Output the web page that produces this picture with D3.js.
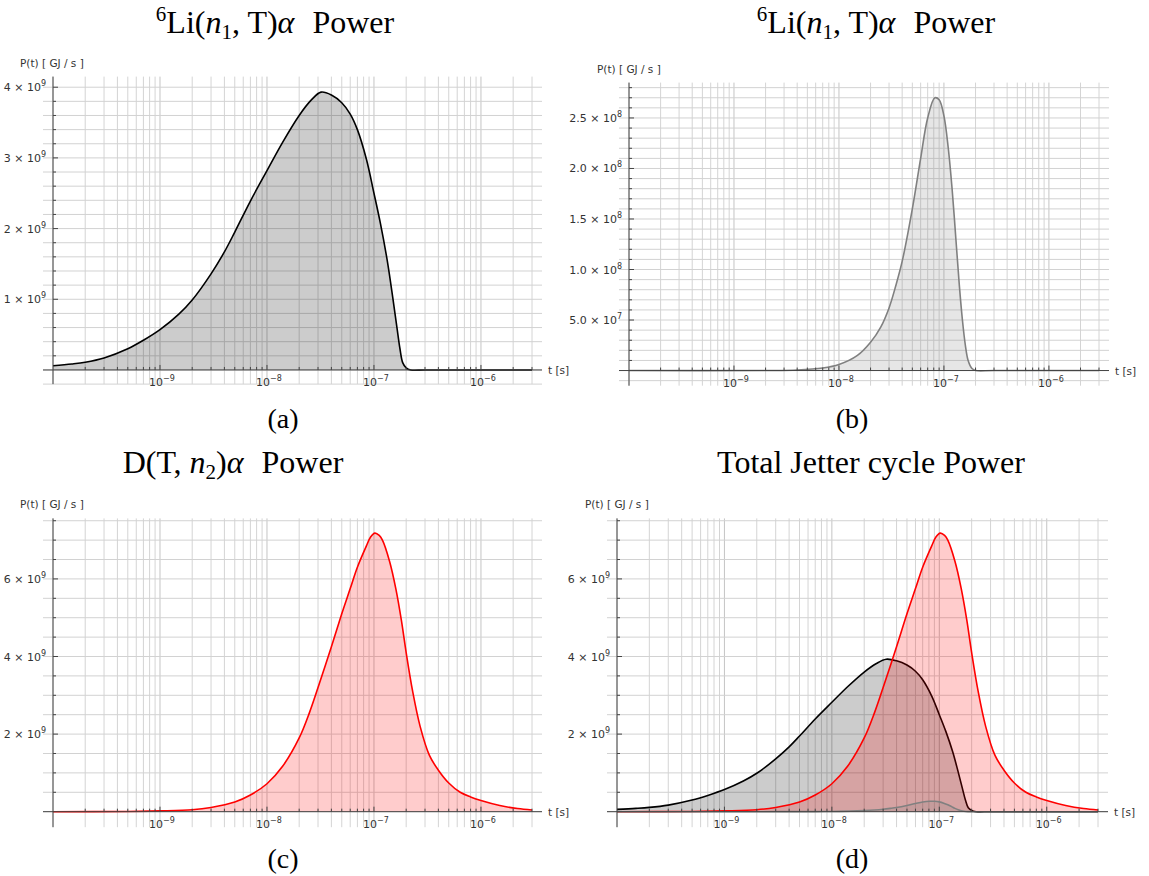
<!DOCTYPE html>
<html>
<head>
<meta charset="utf-8">
<script src="https://d3js.org/d3.v7.min.js"></script>
<style>
body{margin:0;background:#fff}
.ticklab{font-family:"DejaVu Sans";font-size:11px;fill:#333}
.axlab{font-family:"DejaVu Sans";font-size:10.5px;fill:#333}
.title{font-family:"Liberation Serif";font-size:32px;fill:#000}
.caption{font-family:"Liberation Serif";font-size:28px;fill:#000}
</style>
</head>
<body>
<div id="chart"></div>
<script>
// t in seconds, P in GJ/s
var li6Time  = [1e-10, 1.5e-10, 2e-10, 3e-10, 5e-10, 7e-10, 1e-9, 1.5e-9, 2e-9, 3e-9, 4e-9, 5e-9, 7e-9, 1e-8, 1.4e-8, 2e-8, 2.6e-8, 3.2e-8, 4e-8, 5e-8, 6e-8, 7e-8, 8.5e-8, 1e-7, 1.15e-7, 1.33e-7, 1.5e-7, 1.64e-7, 1.75e-7, 1.86e-7, 2e-7, 2.2e-7, 3e-7, 1e-6, 3e-6];
var li6Power = [0.06e9, 0.085e9, 0.11e9, 0.17e9, 0.30e9, 0.42e9, 0.57e9, 0.79e9, 0.99e9, 1.36e9, 1.67e9, 1.95e9, 2.39e9, 2.82e9, 3.22e9, 3.60e9, 3.82e9, 3.93e9, 3.89e9, 3.78e9, 3.62e9, 3.40e9, 2.98e9, 2.50e9, 2.07e9, 1.55e9, 1.02e9, 0.6e9, 0.3e9, 0.1e9, 0.03e9, 0, 0, 0, 0];

var li6bTime  = [1e-10, 2e-9, 4e-9, 7e-9, 1e-8, 1.5e-8, 2e-8, 2.5e-8, 3e-8, 3.5e-8, 4e-8, 5e-8, 6e-8, 7e-8, 8.2e-8, 9e-8, 1e-7, 1.1e-7, 1.2e-7, 1.3e-7, 1.4e-7, 1.5e-7, 1.6e-7, 1.7e-7, 1.85e-7, 2e-7, 3e-7, 3e-6];
var li6bPower = [0, 0, 0.005e8, 0.025e8, 0.06e8, 0.15e8, 0.28e8, 0.43e8, 0.62e8, 0.85e8, 1.08e8, 1.6e8, 2.1e8, 2.5e8, 2.7e8, 2.68e8, 2.52e8, 2.2e8, 1.78e8, 1.3e8, 0.85e8, 0.5e8, 0.25e8, 0.1e8, 0.02e8, 0, 0, 0];

var dtTime  = [1e-10, 5e-10, 1e-9, 2e-9, 3e-9, 5e-9, 7e-9, 1e-8, 1.4e-8, 2e-8, 2.5e-8, 3e-8, 4e-8, 5e-8, 6e-8, 7e-8, 8.5e-8, 9.3e-8, 1.02e-7, 1.12e-7, 1.2e-7, 1.4e-7, 1.6e-7, 1.8e-7, 2e-7, 2.3e-7, 2.7e-7, 3.3e-7, 4e-7, 5e-7, 6.4e-7, 8e-7, 1e-6, 1.5e-6, 2.2e-6, 3e-6];
var dtPower = [0, 0.005e9, 0.02e9, 0.05e9, 0.11e9, 0.25e9, 0.43e9, 0.72e9, 1.17e9, 1.9e9, 2.56e9, 3.2e9, 4.25e9, 5.1e9, 5.75e9, 6.3e9, 6.85e9, 7.08e9, 7.18e9, 7.12e9, 7.0e9, 6.45e9, 5.75e9, 4.95e9, 4.1e9, 3.1e9, 2.2e9, 1.45e9, 1.07e9, 0.74e9, 0.5e9, 0.38e9, 0.29e9, 0.16e9, 0.08e9, 0.045e9];

var tDomain = [1e-10, 3e-6];
var xMajor = [1e-9, 1e-8, 1e-7, 1e-6];
var xMajorExp = ["−9", "−8", "−7", "−6"];

var yTicksA = [1e9, 2e9, 3e9, 4e9];
var yLabelsA = ["1 × 10", "2 × 10", "3 × 10", "4 × 10"];
var yExpA = ["9", "9", "9", "9"];

var yTicksB = [0.5e8, 1.0e8, 1.5e8, 2.0e8, 2.5e8];
var yLabelsB = ["5.0 × 10", "1.0 × 10", "1.5 × 10", "2.0 × 10", "2.5 × 10"];
var yExpB = ["7", "8", "8", "8", "8"];

var yTicksC = [2e9, 4e9, 6e9];
var yLabelsC = ["2 × 10", "4 × 10", "6 × 10"];
var yExpC = ["9", "9", "9"];

var li6Series  = {t: li6Time,  p: li6Power,  color: "#000000"};
var li6bSeries = {t: li6bTime, p: li6bPower, color: "#808080"};
var dtSeries   = {t: dtTime,   p: dtPower,   color: "#ff0000"};

var svg = d3.select("#chart").append("svg")
  .attr("width", 1149)
  .attr("height", 876);

function drawPanel(cfg){
  var g = svg.append("g");
  var x = d3.scaleLog().domain(tDomain).range([cfg.left, cfg.right]);
  var y = d3.scaleLinear().domain(cfg.pDomain).range([cfg.bottom, cfg.top]);
  var pad = 10;

  // grid
  var vt = x.ticks();
  g.selectAll(".vgrid").data(vt).enter().append("line")
    .attr("x1", function(d){return x(d);}).attr("x2", function(d){return x(d);})
    .attr("y1", cfg.top).attr("y2", cfg.bottom)
    .attr("stroke", function(d){ return xMajor.indexOf(d) >= 0 ? "#c4c4c4" : "#d4d4d4"; })
    .attr("stroke-width", 1);

  var i0 = Math.ceil(cfg.pDomain[0] / cfg.minor - 1e-6), i1 = Math.floor(cfg.pDomain[1] / cfg.minor + 1e-6);
  var ht = d3.range(i0, i1 + 1).map(function(i){ return i * cfg.minor; });
  g.selectAll(".hgrid").data(ht).enter().append("line")
    .attr("x1", cfg.left - pad).attr("x2", cfg.right + pad)
    .attr("y1", function(d){return y(d);}).attr("y2", function(d){return y(d);})
    .attr("stroke", "#d2d2d2")
    .attr("stroke-width", 1);

  // curves
  cfg.series.forEach(function(s){
    var pts = s.t.map(function(t, i){ return [t, s.p[i]]; });
    var area = d3.area().curve(d3.curveCatmullRom.alpha(0.5))
      .x(function(d){return x(d[0]);}).y0(y(0)).y1(function(d){return y(d[1]);});
    var line = d3.line().curve(d3.curveCatmullRom.alpha(0.5))
      .x(function(d){return x(d[0]);}).y(function(d){return y(d[1]);});
    g.append("path").datum(pts).attr("d", area)
      .attr("fill", s.color).attr("fill-opacity", 0.2).attr("stroke", "none");
    g.append("path").datum(pts).attr("d", line)
      .attr("fill", "none").attr("stroke", s.color).attr("stroke-width", 1.6);
  });

  // axes
  var y0 = y(0);
  g.append("line").attr("x1", cfg.left - pad).attr("x2", cfg.right + pad)
    .attr("y1", y0).attr("y2", y0).attr("stroke", "#444").attr("stroke-width", 1);
  g.append("line").attr("x1", cfg.left).attr("x2", cfg.left)
    .attr("y1", cfg.top).attr("y2", cfg.bottom).attr("stroke", "#444").attr("stroke-width", 1);

  g.selectAll(".xtick").data(vt.filter(function(d){return d > tDomain[0] * 1.01;})).enter().append("line")
    .attr("x1", function(d){return x(d);}).attr("x2", function(d){return x(d);})
    .attr("y1", y0).attr("y2", function(d){ return y0 - (xMajor.indexOf(d) >= 0 ? 5 : 3); })
    .attr("stroke", "#444");

  g.selectAll(".ytick").data(ht.filter(function(d){return d > 0;})).enter().append("line")
    .attr("x1", cfg.left).attr("x2", function(d){
      var isMajor = cfg.yTicks.some(function(v){ return Math.abs(v - d) < cfg.minor * 0.01; });
      return cfg.left + (isMajor ? 5 : 3);
    })
    .attr("y1", function(d){return y(d);}).attr("y2", function(d){return y(d);})
    .attr("stroke", "#444");

  // tick labels
  var xl = g.selectAll(".xlab").data(xMajor).enter().append("text")
    .attr("class", "ticklab")
    .attr("x", function(d){return x(d) + 2;})
    .attr("y", y0 + 16)
    .attr("text-anchor", "middle");
  xl.append("tspan").text("10");
  xl.append("tspan").attr("dy", -5).style("font-size", "8px").text(function(d, i){ return xMajorExp[i]; });

  var yl = g.selectAll(".ylab").data(cfg.yTicks).enter().append("text")
    .attr("class", "ticklab")
    .attr("x", cfg.left - 7)
    .attr("y", function(d){ return y(d) + 4; })
    .attr("text-anchor", "end");
  yl.append("tspan").text(function(d, i){ return cfg.yLabels[i]; });
  yl.append("tspan").attr("dy", -5).style("font-size", "8px").text(function(d, i){ return cfg.yExp[i]; });

  g.append("text").attr("class", "axlab")
    .attr("x", cfg.right + pad + 6).attr("y", y0 + 4).text("t [s]");
  g.append("text").attr("class", "axlab")
    .attr("x", cfg.yLabelX).attr("y", cfg.top - 10).text("P(t) [ GJ / s ]");

  // title + caption
  var tt = g.append("text").attr("class", "title")
    .attr("x", cfg.titleX).attr("y", cfg.titleY).attr("text-anchor", "middle");
  cfg.title(tt);
  g.append("text").attr("class", "caption")
    .attr("x", cfg.capX).attr("y", cfg.capY).attr("text-anchor", "middle").text(cfg.caption);
}

function li6Title(t){
  t.append("tspan").attr("dy", -12).style("font-size", "21px").text("6");
  t.append("tspan").attr("dy", 12).text("Li(");
  t.append("tspan").style("font-style", "italic").text("n");
  t.append("tspan").attr("dy", 6).style("font-size", "21px").text("1");
  t.append("tspan").attr("dy", -6).text(", T)");
  t.append("tspan").style("font-style", "italic").text("α");
  t.append("tspan").attr("dx", 18).text("Power");
}
function dtTitle(t){
  t.append("tspan").text("D(T, ");
  t.append("tspan").style("font-style", "italic").text("n");
  t.append("tspan").attr("dy", 6).style("font-size", "21px").text("2");
  t.append("tspan").attr("dy", -6).text(")");
  t.append("tspan").style("font-style", "italic").text("α");
  t.append("tspan").attr("dx", 18).text("Power");
}
function totalTitle(t){
  t.text("Total Jetter cycle Power");
}

drawPanel({left: 53, right: 532, top: 76.6, bottom: 384.1, pDomain: [-0.2e9, 4.15e9], minor: 0.2e9,
  yTicks: yTicksA, yLabels: yLabelsA, yExp: yExpA, yLabelX: 20,
  series: [li6Series], title: li6Title, titleX: 275, titleY: 33, caption: "(a)", capX: 283, capY: 428});

drawPanel({left: 629, right: 1099, top: 82.6, bottom: 385.7, pDomain: [-0.15e8, 2.85e8], minor: 0.1e8,
  yTicks: yTicksB, yLabels: yLabelsB, yExp: yExpB, yLabelX: 597,
  series: [li6bSeries], title: li6Title, titleX: 876, titleY: 33, caption: "(b)", capX: 852, capY: 428});

drawPanel({left: 53, right: 532, top: 518.4, bottom: 827.2, pDomain: [-0.4e9, 7.56e9], minor: 0.5e9,
  yTicks: yTicksC, yLabels: yLabelsC, yExp: yExpC, yLabelX: 20,
  series: [dtSeries], title: dtTitle, titleX: 233, titleY: 473, caption: "(c)", capX: 283, capY: 868});

drawPanel({left: 617, right: 1098, top: 518.4, bottom: 827.2, pDomain: [-0.4e9, 7.56e9], minor: 0.5e9,
  yTicks: yTicksC, yLabels: yLabelsC, yExp: yExpC, yLabelX: 585,
  series: [li6Series, dtSeries, li6bSeries], title: totalTitle, titleX: 871, titleY: 473, caption: "(d)", capX: 852, capY: 868});
</script>
</body>
</html>
